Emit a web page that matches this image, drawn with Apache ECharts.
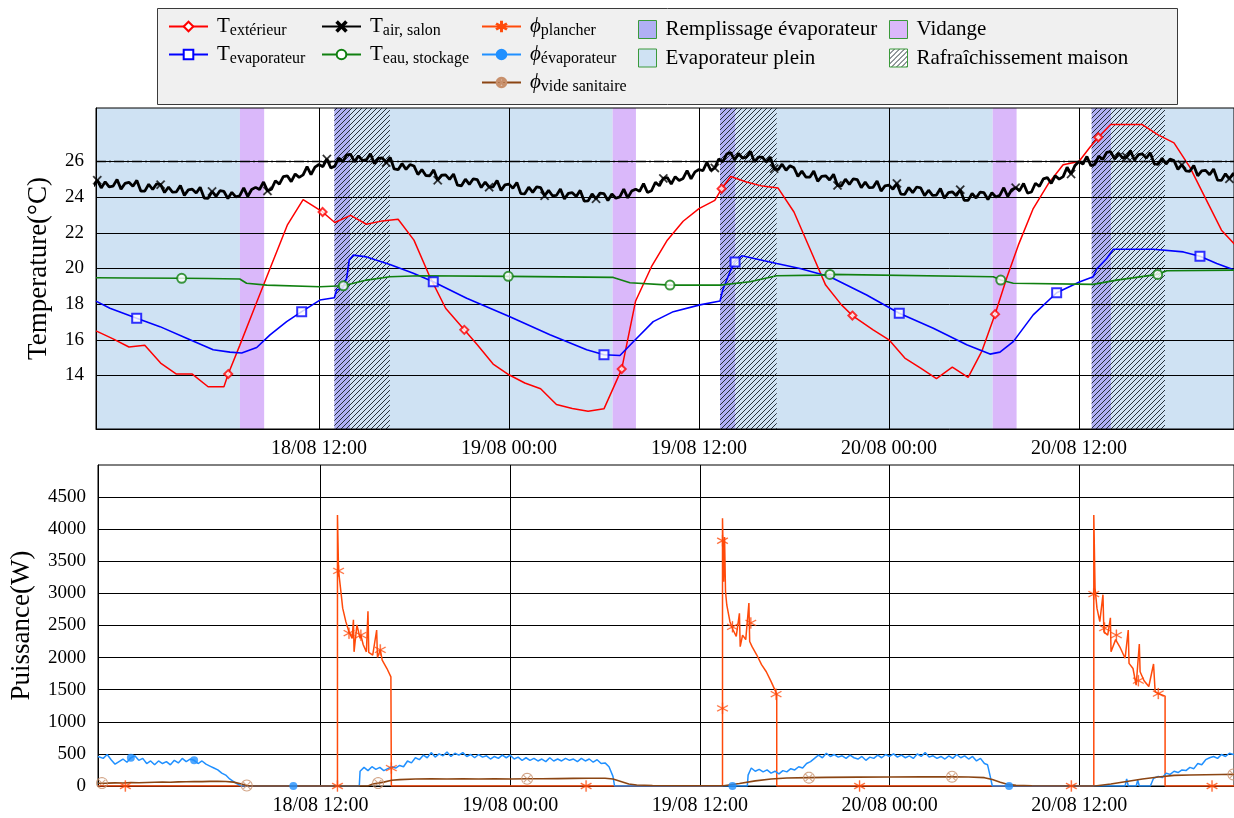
<!DOCTYPE html>
<html><head><meta charset="utf-8">
<script src="https://cdn.jsdelivr.net/npm/echarts/dist/echarts.min.js"></script>
<style>html,body{margin:0;padding:0;background:#fff}#c{width:1234px;height:818px}</style>
</head><body><div id="c"></div>
<script>
// ---------------- DATA (time in hours from 18/08 00:00) ----------------
const X_MIN = -2.08, X_MAX = 69.79;
const xTickValues = [12, 24, 36, 48, 60];
const xTickLabels = ['18/08 12:00', '19/08 00:00', '19/08 12:00', '20/08 00:00', '20/08 12:00'];
const tempTicks = [14, 16, 18, 20, 22, 24, 26];
const powerTicks = [0, 500, 1000, 1500, 2000, 2500, 3000, 3500, 4000, 4500];
const tempSetpoint = 26;

const tExt = [[-2.08,16.5],[-1.0,16.05],[0.0,15.6],[1.0,15.7],[2.0,14.7],[3.0,14.08],[4.0,14.08],[5.0,13.37],[6.0,13.37],[6.27,14.08],[7.0,15.69],[8.0,17.95],[9.0,20.2],[10.0,22.43],[11.0,23.86],[12.23,23.17],[13.0,22.58],[14.0,22.98],[15.0,22.48],[16.0,22.67],[17.0,22.76],[18.0,21.59],[19.0,19.54],[20.0,17.77],[21.18,16.56],[22.0,15.72],[23.0,14.64],[24.0,14.04],[25.0,13.58],[26.0,13.26],[27.0,12.37],[28.0,12.15],[29.0,12.0],[30.0,12.13],[31.12,14.36],[32.0,18.18],[33.0,20.1],[34.0,21.59],[35.0,22.65],[36.0,23.36],[37.0,23.82],[37.43,24.47],[38.0,25.16],[39.0,24.85],[40.0,24.62],[41.0,24.51],[42.0,23.17],[43.0,21.12],[44.0,19.07],[45.0,17.96],[45.69,17.36],[47.0,16.56],[48.0,16.0],[49.0,14.98],[50.0,14.42],[51.0,13.82],[52.0,14.47],[53.0,13.89],[53.86,15.35],[54.7,17.44],[55.43,19.45],[56.17,21.31],[57.11,23.36],[58.06,24.75],[59.0,25.82],[60.0,26.0],[60.69,26.8],[61.22,27.36],[62.0,28.07],[63.0,28.07],[64.0,28.07],[65.0,27.49],[66.0,27.04],[67.0,25.68],[68.0,23.92],[69.0,22.15],[70.0,21.2]];
const tExtMarks = [[6.27,14.08],[12.23,23.17],[21.18,16.56],[31.12,14.36],[37.43,24.47],[45.69,17.36],[54.7,17.44],[61.22,27.36]];

const tEvap = [[-2.08,18.17],[-1.2,17.77],[0.49,17.21],[1.96,16.74],[3.64,16.09],[5.32,15.44],[6.38,15.31],[7.12,15.26],[8.07,15.57],[8.91,16.28],[9.96,17.02],[10.91,17.58],[12.06,18.23],[12.97,18.36],[13.12,18.79],[13.5,18.9],[13.75,19.45],[13.91,20.47],[14.17,20.75],[15.01,20.65],[16.48,20.23],[17.96,19.73],[19.22,19.26],[21.33,18.33],[24.06,17.3],[26.59,16.28],[28.91,15.44],[30.0,15.16],[31.01,15.12],[32.07,16.09],[33.11,17.02],[34.38,17.58],[36.06,17.96],[37.33,18.18],[37.5,18.79],[37.96,19.82],[38.28,20.37],[38.7,20.71],[40.91,20.28],[42.38,20.0],[44.27,19.54],[46.59,18.51],[48.65,17.49],[50.8,16.65],[52.91,15.72],[54.38,15.2],[55.01,15.31],[55.85,15.9],[57.11,17.4],[58.59,18.64],[60.06,19.26],[60.9,19.54],[61.12,19.97],[61.75,20.56],[62.17,21.08],[64.7,21.08],[66.59,20.93],[67.64,20.69],[68.7,20.28],[70.0,19.85]];
const tEvapMarks = [[0.49,17.21],[10.91,17.58],[19.22,19.26],[30.0,15.16],[38.28,20.37],[48.65,17.49],[58.59,18.64],[67.64,20.69]];

const tEau = [[-2.08,19.48],[0,19.47],[3.33,19.45],[5,19.44],[7.0,19.41],[7.43,19.17],[8.7,19.07],[12.06,18.98],[13.54,19.03],[15.01,19.35],[16.48,19.54],[18.38,19.59],[23.96,19.56],[30.59,19.5],[31.64,19.2],[34.17,19.07],[37.33,19.07],[39.22,19.26],[40.91,19.59],[43.64,19.63],[44.27,19.67],[54.59,19.54],[55.06,19.35],[55.85,19.17],[60.9,19.11],[62.38,19.35],[64.97,19.67],[65.54,19.87],[70,19.91]];
const tEauMarks = [[3.33,19.45],[13.54,19.03],[23.96,19.56],[34.17,19.07],[44.27,19.67],[55.06,19.35],[64.97,19.67]];

// T air salon: one reading every 15 min starting at AIR_T0
const AIR_T0 = -2.25, AIR_DT = 0.25;
const tAir = [24.62,
24.95,24.52,24.86,24.58, 24.62,24.99,24.45,24.77, 24.83,24.61,24.94,24.34, 24.34,24.72,24.43,24.75,
24.70,24.26,24.57,24.28, 24.30,24.66,24.10,24.41, 24.45,24.23,24.55,23.95, 23.94,24.32,24.04,24.36,
24.32,23.92,24.27,24.02, 24.08,24.52,24.04,24.43, 24.55,24.43,24.85,24.35, 24.44,24.92,24.73,25.15,
25.20,24.87,25.30,25.11, 25.25,25.71,25.27,25.68, 25.83,25.71,26.14,25.64, 25.74,26.19,25.98,26.37,
26.40,25.98,26.32,26.05, 26.10,26.44,25.88,26.17, 26.20,25.94,26.23,25.58, 25.54,25.88,25.56,25.83,
25.75,25.27,25.55,25.21, 25.20,25.53,24.95,25.23, 25.25,25.00,25.30,24.67, 24.64,25.01,24.72,25.03,
24.98,24.54,24.85,24.56, 24.58,24.94,24.38,24.69, 24.73,24.50,24.82,24.20, 24.19,24.56,24.27,24.58,
24.53,24.08,24.39,24.08, 24.10,24.46,23.90,24.21, 24.25,24.04,24.38,23.78, 23.79,24.18,23.91,24.23,
24.20,23.81,24.18,23.94, 24.02,24.45,23.96,24.34, 24.45,24.33,24.76,24.26, 24.36,24.83,24.64,25.05,
25.10,24.74,25.15,24.94, 25.05,25.49,25.03,25.42, 25.55,25.48,25.95,25.50, 25.64,26.14,25.98,26.42,
26.50,26.09,26.45,26.19, 26.25,26.57,25.98,26.24, 26.25,25.98,26.25,25.60, 25.54,25.85,25.51,25.76,
25.65,25.17,25.46,25.13, 25.12,25.46,24.89,25.17, 25.20,24.96,25.28,24.66, 24.64,25.01,24.72,25.03,
24.98,24.53,24.84,24.53, 24.55,24.90,24.34,24.63, 24.67,24.45,24.77,24.17, 24.16,24.54,24.25,24.57,
24.52,24.08,24.39,24.10, 24.12,24.48,23.94,24.25, 24.30,24.08,24.42,23.82, 23.82,24.21,23.95,24.28,
24.25,23.87,24.25,24.01, 24.10,24.53,24.04,24.42, 24.53,24.37,24.77,24.23, 24.29,24.78,24.61,25.03,
25.10,24.77,25.20,25.01, 25.15,25.68,25.30,25.78, 26.00,25.86,26.28,25.76, 25.84,26.30,26.11,26.51,
26.55,26.13,26.47,26.20, 26.25,26.61,26.07,26.38, 26.43,26.19,26.49,25.87, 25.84,26.18,25.86,26.13,
26.05,25.56,25.82,25.48, 25.45,25.78,25.20,25.48, 25.50,25.26,25.58,24.96, 24.94,25.31,25.03,25.34,
25.05];
const tAirMarkTimes = [-2.0,1.9,5.3,8.7,12.6,16.2,19.5,22.8,26.3,29.6,33.7,36.9,40.8,44.7,48.5,52.5,56.0,59.6,63.0,66.5,69.5];

const pPlancher = [[-2.08,0],[13.07,0],[13.07,4220],[13.14,3350],[13.3,3000],[13.4,2770],[13.6,2560],[13.8,2400],[14.0,2300],[14.08,2590],[14.12,2090],[14.3,2510],[14.5,2300],[14.55,2350],[14.7,2200],[14.9,2090],[15.0,2720],[15.05,2080],[15.3,2040],[15.55,2430],[15.6,2000],[15.78,2120],[15.9,1960],[16.2,1830],[16.45,1700],[16.48,1680],[16.48,0],[37.43,0],[37.43,4170],[37.5,3180],[37.56,3880],[37.62,3030],[37.7,2820],[37.9,2560],[38.1,2430],[38.3,2330],[38.5,2690],[38.55,2170],[38.7,2350],[38.9,2280],[39.1,2850],[39.15,2250],[39.3,2170],[39.6,2040],[39.9,1890],[40.2,1780],[40.5,1630],[40.7,1520],[40.86,1430],[40.86,0],[60.92,0],[60.92,4220],[61.0,3080],[61.12,2770],[61.3,2560],[61.5,2980],[61.56,2400],[61.8,2350],[61.97,2620],[62.01,2090],[62.3,2280],[62.6,2150],[62.9,1990],[63.1,2430],[63.15,1910],[63.4,1830],[63.6,1570],[63.8,2210],[63.85,1780],[64.1,1640],[64.4,1550],[64.7,1900],[64.8,1470],[65.0,1440],[65.43,1400],[65.43,0],[70,0]];
const pPlancherMarks = [[-0.35,0],[13.07,0],[13.14,3350],[13.8,2380],[14.55,2350],[15.78,2120],[16.48,280],[28.8,0],[37.43,3820],[37.43,1210],[38.06,2480],[39.22,2540],[40.82,1430],[46.1,0],[59.5,0],[60.92,2990],[61.6,2460],[62.35,2350],[63.74,1640],[65.0,1440],[68.4,0]];

const pEvap = [[-2.08,460],[-2.0,470],[-1.75,430],[-1.5,490],[-1.25,410],[-1.0,340],[-0.75,380],[-0.5,420],[-0.25,370],[0,440],[0.25,470],[0.5,400],[0.75,430],[1.0,350],[1.25,390],[1.5,330],[1.75,390],[2.0,350],[2.25,380],[2.5,330],[2.75,400],[3.0,360],[3.25,430],[3.5,380],[3.75,420],[4.0,400],[4.25,350],[4.5,390],[4.75,340],[5.0,310],[5.25,280],[5.5,250],[5.75,200],[6.0,170],[6.25,110],[6.5,70],[6.75,30],[7.0,0],
[14.45,0],[14.5,230],[14.75,290],[15.0,240],[15.25,300],[15.5,260],[15.75,290],[16.0,240],[16.25,270],[16.5,300],[16.75,280],[17.0,320],[17.25,300],[17.5,390],[17.75,360],[18.0,440],[18.25,410],[18.5,480],[18.75,440],[19.0,520],[19.25,450],[19.5,500],[19.75,470],[20.0,530],[20.25,460],[20.5,510],[20.75,480],[21.0,520],[21.25,460],[21.5,490],[21.75,440],[22.0,490],[22.25,450],[22.5,470],[22.75,420],[23.0,460],[23.25,430],[23.5,480],[23.75,440],[24.0,480],[24.25,420],[24.5,450],[24.75,400],[25.0,440],[25.25,400],[25.5,430],[25.75,390],[26.0,420],[26.25,380],[26.5,440],[26.75,390],[27.0,420],[27.25,390],[27.5,430],[27.75,400],[28.0,420],[28.25,380],[28.5,430],[28.75,390],[29.0,420],[29.25,370],[29.5,410],[29.75,350],[30.0,360],[30.25,300],[30.5,150],[30.6,0],
[39.0,0],[39.05,170],[39.25,280],[39.5,230],[39.75,260],[40.0,220],[40.25,250],[40.5,200],[40.75,230],[41.0,190],[41.25,240],[41.5,220],[41.75,270],[42.0,250],[42.25,300],[42.5,280],[42.75,350],[43.0,380],[43.25,430],[43.5,480],[43.75,440],[44.0,510],[44.25,460],[44.5,490],[44.75,450],[45.0,470],[45.25,430],[45.5,480],[45.75,440],[46.0,420],[46.25,460],[46.5,400],[46.75,450],[47.0,430],[47.25,480],[47.5,440],[47.75,490],[48.0,460],[48.25,500],[48.5,450],[48.75,480],[49.0,440],[49.25,470],[49.5,430],[49.75,500],[50.0,460],[50.25,520],[50.5,450],[50.75,470],[51.0,430],[51.25,460],[51.5,420],[51.75,470],[52.0,430],[52.25,490],[52.5,440],[52.75,470],[53.0,420],[53.25,460],[53.5,390],[53.75,430],[54.0,350],[54.2,330],[54.35,170],[54.5,0],
[62.9,0],[63.0,110],[63.1,0],[63.6,0],[63.7,90],[63.8,0],[64.5,0],[64.7,120],[65.0,150],[65.25,130],[65.5,200],[65.75,180],[66.0,230],[66.25,210],[66.5,250],[66.75,240],[67.0,290],[67.25,270],[67.5,350],[67.75,330],[68.0,410],[68.25,440],[68.5,460],[68.75,430],[69.0,490],[69.25,460],[69.5,510],[69.75,490],[70.0,500]];
const pEvapMarks = [[0.0,440],[4.0,400],[10.28,0],[38.06,0],[55.56,0]];

const pVide = [[-2.08,42],[-1.5,45],[-1.0,48],[-0.5,46],[0,52],[0.5,50],[1.0,55],[1.5,58],[2.0,60],[2.5,58],[3.0,64],[3.5,66],[4.0,70],[4.5,68],[5.0,72],[5.5,74],[6.0,70],[6.5,60],[7.0,30],[7.33,8],[7.6,0],[15.0,0],[15.3,30],[15.64,45],[16.0,60],[16.5,90],[17.0,100],[18.0,110],[19.0,112],[20.0,108],[21.0,112],[22.0,110],[23.0,114],[24.0,110],[25.07,112],[26.0,112],[27.0,115],[28.0,118],[29.0,120],[30.0,120],[30.5,110],[31.0,70],[31.5,30],[32.0,15],[33.0,8],[35.0,5],[37.5,3],[38.5,40],[39.5,80],[40.5,110],[41.5,125],[42.9,130],[44.0,135],[46.0,138],[48.0,140],[50.0,142],[51.95,145],[53.0,140],[54.0,130],[54.5,100],[55.0,60],[55.5,25],[56.0,10],[57.0,3],[60.0,0],[61.0,0],[62.0,30],[63.0,70],[64.0,110],[65.0,140],[66.0,165],[67.0,172],[68.0,175],[69.0,178],[70.0,182]];
const pVideMarks = [[-1.83,45],[7.33,8],[15.64,45],[25.07,112],[42.9,130],[51.95,145],[69.75,180]];

// Phases (start, end) in hours
const phaseRemplissage = [[12.97,13.96],[37.33,38.3],[60.8,62.02]];
const phasePlein = [[-2.5,7.01],[13.96,30.55],[38.3,54.55],[62.02,71]];
const phaseVidange = [[7.01,8.54],[30.55,32.02],[54.55,56.06]];
const phaseRafraich = [[12.97,16.48],[37.33,40.91],[60.8,65.43]];

// ---------------- BUILD ----------------
const SERIF = '"Liberation Serif","DejaVu Serif",serif';
const airData = tAir.map((v, i) => [AIR_T0 + i * AIR_DT, v]);
const airMarks = tAirMarkTimes.map(t => airData[Math.round((t - AIR_T0) / AIR_DT)]);

function hatch(bg) {
  const c = document.createElement('canvas'); c.width = 5; c.height = 5;
  const g = c.getContext('2d');
  if (bg) { g.fillStyle = bg; g.fillRect(0, 0, 5, 5); }
  g.strokeStyle = '#1c2630'; g.lineWidth = 0.95;
  g.beginPath();
  g.moveTo(-1, 6); g.lineTo(6, -1);
  g.moveTo(-3.5, 3.5); g.lineTo(3.5, -3.5);
  g.moveTo(1.5, 8.5); g.lineTo(8.5, 1.5);
  g.stroke();
  return { image: c, repeat: 'repeat' };
}
const HATCH = hatch(null), HATCH_LEG = hatch('#ffffff');
const C_PLEIN = '#cfe2f3', C_REMP = '#b0b0f4', C_VID = '#dab8fa';

function band(name, data, fill, z) {
  return {
    name, type: 'custom', xAxisIndex: 0, yAxisIndex: 0, z, silent: true, clip: false,
    itemStyle: { color: fill }, data,
    renderItem(params, api) {
      const cs = params.coordSys;
      let x0 = api.coord([api.value(0), 20])[0], x1 = api.coord([api.value(1), 20])[0];
      x0 = Math.max(x0, cs.x); x1 = Math.min(x1, cs.x + cs.width);
      return { type: 'rect', shape: { x: x0, y: cs.y, width: Math.max(0, x1 - x0), height: cs.height }, style: { fill } };
    }
  };
}

// marker shapes
const SYM_X = 'path://M0,1.2L1.2,0L5,3.8L8.8,0L10,1.2L6.2,5L10,8.8L8.8,10L5,6.2L1.2,10L0,8.8L3.8,5Z';
const SYM_AST = 'path://M4.55,0L5.45,0L5.45,10L4.55,10Z M0.47,2.85L0.87,2.15L9.53,7.15L9.13,7.85Z M0.47,7.15L9.13,2.15L9.53,2.85L0.87,7.85Z';
function ringPath() {
  const N = 24, pts = (r, rev) => {
    const a = [];
    for (let i = 0; i < N; i++) {
      const k = rev ? N - i : i, ang = 2 * Math.PI * k / N;
      a.push((5 + r * Math.cos(ang)).toFixed(3) + ',' + (5 + r * Math.sin(ang)).toFixed(3));
    }
    return 'M' + a.join('L') + 'Z';
  };
  return 'path://' + pts(5, false) + ' ' + pts(4.1, true) +
    ' M1.6,2.2L2.2,1.6L8.4,7.8L7.8,8.4Z M8.4,2.2L7.8,1.6L1.6,7.8L2.2,8.4Z';
}
const SYM_OX = ringPath();

function line(name, data, gi, color, width, symbol, symColor, extra) {
  return Object.assign({
    name, type: 'line', xAxisIndex: gi, yAxisIndex: gi, data, showSymbol: false, symbol,
    lineStyle: { color, width }, itemStyle: { color: symColor || color, borderColor: symColor || color, borderWidth: 1.3 },
    animation: false, z: 3, silent: true
  }, extra || {});
}
function marks(data, gi, symbol, size, color, bw) {
  return {
    type: 'scatter', xAxisIndex: gi, yAxisIndex: gi, data, symbol, symbolSize: size, silent: true, z: 4,
    itemStyle: { color, borderColor: color, borderWidth: bw || 0 }, animation: false
  };
}

const xAxisCommon = (gi) => ({
  type: 'value', gridIndex: gi, min: X_MIN, max: X_MAX,
  axisLine: { show: true, onZero: false, lineStyle: { color: '#000', width: 1 } },
  axisTick: { show: false, customValues: xTickValues },
  axisLabel: { customValues: xTickValues, formatter: v => xTickLabels[xTickValues.indexOf(v)] || '',
               fontFamily: SERIF, fontSize: 20, color: '#000', margin: 10 },
  splitLine: { show: true, lineStyle: { color: '#000', width: 1 } }
});

const rich = {
  f: { fontFamily: SERIF, fontSize: 21, lineHeight: 24, color: '#000', padding: [0, 0, 0, 4] },
  m: { fontFamily: SERIF, fontSize: 21, lineHeight: 24, color: '#000' },
  p: { fontFamily: SERIF, fontSize: 21, lineHeight: 24, color: '#000', fontStyle: 'italic', padding: [0, 0, 0, 4] },
  s: { fontFamily: SERIF, fontSize: 16, lineHeight: 13, color: '#000', verticalAlign: 'bottom' }
};
const legendText = {
  'Text': '{f|T}{s|extérieur}',
  'Tevap': '{f|T}{s|evaporateur}',
  'Tair': '{f|T}{s|air, salon}',
  'Teau': '{f|T}{s|eau, stockage}',
  'Pplancher': '{p|ϕ}{s|plancher}',
  'Pevap': '{p|ϕ}{s|évaporateur}',
  'Pvide': '{p|ϕ}{s|vide sanitaire}'
};
function legend(left, names, w, h, extra) {
  return Object.assign({
    orient: 'vertical', left, top: 16, padding: 0, itemGap: 5.5, itemWidth: w, itemHeight: h,
    selectedMode: false, data: names,
    formatter: n => legendText[n] || ('{f|' + n + '}'),
    textStyle: { rich }
  }, extra || {});
}

const option = {
  animation: false,
  backgroundColor: '#fff',
  textStyle: { fontFamily: SERIF },
  graphic: [{ type: 'rect', left: 157, top: 8, shape: { width: 1020, height: 96 }, z: -10,
              style: { fill: '#f0f0f0', stroke: '#3a3a3a', lineWidth: 1 } }],
  legend: [
    legend(168, ['Text', 'Tevap'], 39, 12),
    legend(321, ['Tair', 'Teau'], 39, 12),
    legend(481, ['Pplancher', 'Pevap', 'Pvide'], 39, 12),
    legend(638, ['Remplissage évaporateur', 'Evaporateur plein'], 18, 18,
           { icon: 'rect', itemStyle: { borderColor: '#3a9a3a', borderWidth: 1 }, itemGap: 7.5, top: 19 }),
    legend(889, ['Vidange', { name: 'Rafraîchissement maison', itemStyle: { color: HATCH_LEG } }], 18, 18,
           { icon: 'rect', itemStyle: { borderColor: '#3a9a3a', borderWidth: 1 }, itemGap: 7.5, top: 19 })
  ],
  grid: [
    { left: 96, top: 108, right: 0, height: 321, show: true, borderColor: '#000', borderWidth: 1, backgroundColor: 'transparent' },
    { left: 96, top: 465, right: 0, height: 321, show: true, borderColor: '#000', borderWidth: 1, backgroundColor: 'transparent' }
  ],
  xAxis: [xAxisCommon(0), xAxisCommon(1)],
  yAxis: [
    { type: 'value', gridIndex: 0, min: 11, max: 29,
      name: 'Temperature(°C)', nameLocation: 'middle', nameGap: 44,
      nameTextStyle: { fontFamily: SERIF, fontSize: 27, color: '#000' },
      axisLine: { show: true, onZero: false, lineStyle: { color: '#000' } },
      axisTick: { show: false, customValues: tempTicks },
      axisLabel: { customValues: tempTicks, formatter: v => String(v), fontFamily: SERIF, fontSize: 19, color: '#000', margin: 12 },
      splitLine: { show: true, lineStyle: { color: '#000', width: 1 } } },
    { type: 'value', gridIndex: 1, min: 0, max: 5000,
      name: 'Puissance(W)', nameLocation: 'middle', nameGap: 63,
      nameTextStyle: { fontFamily: SERIF, fontSize: 27, color: '#000' },
      axisLine: { show: true, onZero: false, lineStyle: { color: '#000' } },
      axisTick: { show: false, customValues: powerTicks },
      axisLabel: { customValues: powerTicks, formatter: v => String(v), fontFamily: SERIF, fontSize: 19, color: '#000', margin: 12 },
      splitLine: { show: true, lineStyle: { color: '#000', width: 1 } } }
  ],
  series: [
    band('Evaporateur plein', phasePlein, C_PLEIN, -4),
    band('Remplissage évaporateur', phaseRemplissage, C_REMP, -3),
    band('Vidange', phaseVidange, C_VID, -2),
    band('Rafraîchissement maison', phaseRafraich, HATCH, -1),

    line('Text', tExt, 0, '#ff0000', 1.5, 'emptyDiamond'),
    line('Tevap', tEvap, 0, '#0000ff', 1.6, 'emptyRect'),
    line('Tair', airData, 0, '#000000', 2.8, SYM_X, null, {
      markLine: { silent: true, symbol: 'none', label: { show: false }, animation: false,
                  lineStyle: { color: '#000', type: [10, 3, 2, 3], width: 1.3 }, data: [{ yAxis: tempSetpoint }] } }),
    line('Teau', tEau, 0, '#108010', 1.6, 'emptyCircle'),
    marks(tExtMarks, 0, 'emptyDiamond', 8, '#ff0000', 1.3),
    marks(tEvapMarks, 0, 'emptyRect', 9, '#0000ff', 1.5),
    marks(airMarks, 0, SYM_X, 9, '#000000', 0.3),
    marks(tEauMarks, 0, 'emptyCircle', 9, '#108010', 1.5),

    line('Pplancher', pPlancher, 1, '#ff4a0a', 1.5, SYM_AST),
    line('Pevap', pEvap, 1, '#2090ff', 1.5, 'circle'),
    line('Pvide', pVide, 1, '#8b4513', 1.6, SYM_OX, '#c8906c'),
    marks(pPlancherMarks, 1, SYM_AST, 11, '#ff4a0a', 0.3),
    marks(pEvapMarks, 1, 'circle', 8, '#2090ff', 0),
    marks(pVideMarks, 1, SYM_OX, 12, '#c8906c', 0)
  ]
};

const chart = echarts.init(document.getElementById('c'), null, { renderer: 'canvas' });
chart.setOption(option);
</script></body></html>
